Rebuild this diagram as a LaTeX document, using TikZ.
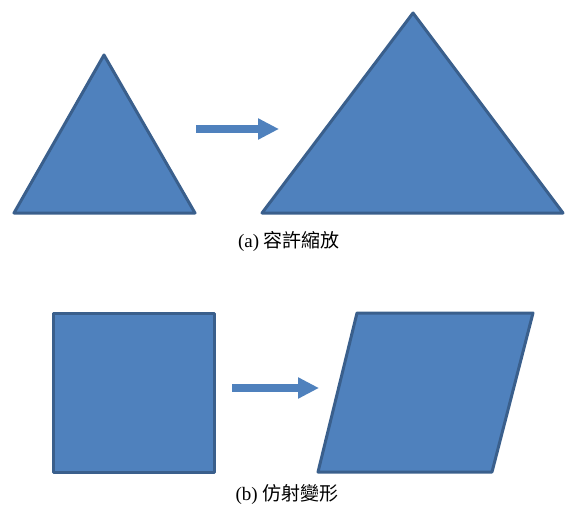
\documentclass[tikz,border=0pt]{standalone}
\usepackage{fontspec}
\setmainfont{Liberation Serif}
\newfontfamily\cjkfont{Noto Sans CJK TC}
\usetikzlibrary{arrows.meta}
\definecolor{shapefill}{HTML}{4F81BD}
\definecolor{shapeedge}{HTML}{3A5F8C}

\begin{document}
\begin{tikzpicture}[
    x=1pt,
    y=-1pt,
    blueshape/.style={fill=shapefill, draw=shapeedge, line width=3pt, line join=round},
    bigarrow/.style={draw=shapefill, line width=8pt, -{Triangle[length=21pt,width=20pt]}},
    caption/.style={font=\fontsize{19}{22}\selectfont, inner sep=0pt}
]
\useasboundingbox (0,0) rectangle (565,508);

% (a) scaling
\draw[blueshape] (104,55) -- (195,213) -- (14,213) -- cycle;
\draw[blueshape] (413,13) -- (563,213) -- (262,213) -- cycle;
\coordinate (atail) at (196,129);
\coordinate (ahead) at (279,129);
\draw[bigarrow] (atail) -- (ahead);
\node[caption] (capa) at (289,241) {(a) {\cjkfont 容許縮放}};

% (b) affine
\draw[blueshape] (53,313) rectangle (214,472);
\draw[blueshape] (357,313) -- (533,313) -- (492,472) -- (318,472) -- cycle;
\coordinate (btail) at (232,388);
\coordinate (bhead) at (319,388);
\draw[bigarrow] (btail) -- (bhead);
\node[caption] (capb) at (287,495) {(b) {\cjkfont 仿射變形}};
\end{tikzpicture}
\end{document}
